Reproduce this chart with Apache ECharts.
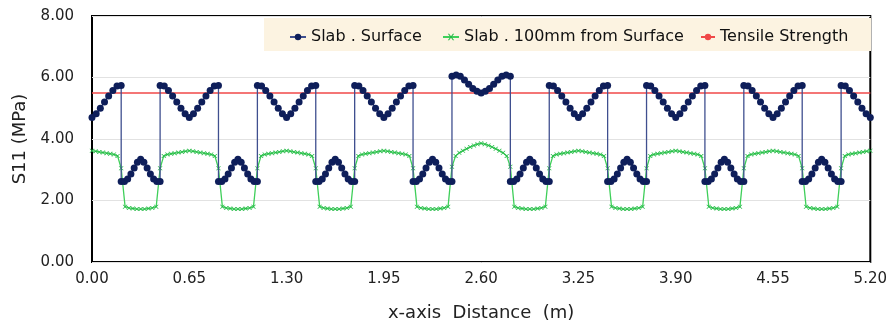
<!DOCTYPE html>
<html>
<head>
<meta charset="utf-8">
<script src="https://cdn.jsdelivr.net/npm/echarts@6/dist/echarts.min.js"></script>
<style>
  html, body { margin: 0; padding: 0; background: #fff; }
  #main { width: 890px; height: 327px; }
</style>
</head>
<body>
<div id="main"></div>
<script>
// centres of the high (slab joint) zones along the x axis, m
var highCenters = [0, 0.65, 1.30, 1.95, 2.60, 3.25, 3.90, 4.55, 5.20];
var halfHigh = 0.195;   // half width of high zone
var lowWidth = 0.26;    // width of low zone between them

// Slab . Surface (MPa)
var surfHigh = [5.74, 5.72, 5.58, 5.40, 5.20, 5.00, 4.82, 4.70, 4.82, 5.00, 5.20, 5.40, 5.58, 5.72, 5.74];
var surfHighMid = [6.04, 6.08, 6.04, 5.92, 5.78, 5.64, 5.55, 5.50, 5.55, 5.64, 5.78, 5.92, 6.04, 6.08, 6.04];
var surfLow = [2.62, 2.62, 2.70, 2.86, 3.06, 3.24, 3.34, 3.24, 3.06, 2.86, 2.70, 2.62, 2.62];

// Slab . 100mm from Surface (MPa)
var greenHigh = [3.05, 3.45, 3.50, 3.52, 3.54, 3.56, 3.58, 3.60, 3.62, 3.60, 3.58, 3.56, 3.54, 3.52, 3.50, 3.45, 3.05];
var greenHighMid = [3.10, 3.45, 3.55, 3.62, 3.68, 3.74, 3.79, 3.83, 3.86, 3.83, 3.79, 3.74, 3.68, 3.62, 3.55, 3.45, 3.10];
var greenLow = [1.80, 1.76, 1.74, 1.72, 1.72, 1.72, 1.74, 1.76, 1.80];

var tensile = 5.5;
var xTicks = ['0.00', '0.65', '1.30', '1.95', '2.60', '3.25', '3.90', '4.55', '5.20'];
var yTicks = ['0.00', '2.00', '4.00', '6.00', '8.00'];

function buildSeries(high, highMid, low, lowInterior) {
    var pts = [];
    highCenters.forEach(function (c) {
        var prof = (c === 2.60) ? highMid : high;
        var n = prof.length - 1;
        prof.forEach(function (v, i) {
            var x = c - halfHigh + i * 2 * halfHigh / n;
            if (x >= -1e-6 && x <= 5.2 + 1e-6) pts.push([+x.toFixed(4), v]);
        });
        if (c < 5.2) {
            var b = c + halfHigh;
            low.forEach(function (v, i) {
                var x = lowInterior
                    ? b + (i + 1) * lowWidth / (low.length + 1)
                    : b + i * lowWidth / (low.length - 1);
                pts.push([+x.toFixed(4), v]);
            });
        }
    });
    return pts;
}

var surfData = buildSeries(surfHigh, surfHighMid, surfLow, false);
var greenData = buildSeries(greenHigh, greenHighMid, greenLow, true);

var font = 'DejaVu Sans';
var crossPath = 'path://M0,0L2,0L5,3L8,0L10,0L6,4L10,8L8,8L5,5L2,8L0,8L4,4Z';
var legendText = { fontFamily: font, fontSize: 16, color: '#111' };

var chart = echarts.init(document.getElementById('main'));
chart.setOption({
    animation: false,
    grid: {
        left: 92, right: 17, top: 16, bottom: 63,
        show: true, borderColor: '#000', borderWidth: 2
    },
    graphic: [{
        type: 'rect',
        shape: { x: 264, y: 18, width: 607, height: 33 },
        style: { fill: '#fcf3e1' },
        z: 1
    }],
    legend: [
        {
            data: ['Slab . Surface'], left: 284, top: 24,
            itemWidth: 16, itemHeight: 8, textStyle: legendText
        },
        {
            data: ['Slab . 100mm from Surface'], left: 437, top: 24,
            itemWidth: 16, itemHeight: 8, textStyle: legendText
        },
        {
            data: ['Tensile Strength'], left: 695, top: 24,
            itemWidth: 14, itemHeight: 8, textStyle: legendText
        }
    ],
    xAxis: {
        type: 'value', min: 0, max: 5.2, interval: 0.65,
        name: 'x-axis  Distance  (m)', nameLocation: 'middle', nameGap: 42,
        nameTextStyle: { fontFamily: font, fontSize: 18, color: '#222' },
        axisLine: { show: false }, axisTick: { show: false },
        splitLine: { show: false },
        axisLabel: {
            margin: 10, fontFamily: font, fontSize: 15, color: '#222',
            formatter: function (v) { return xTicks[Math.round(v / 0.65)]; }
        }
    },
    yAxis: {
        type: 'value', min: 0, max: 8, interval: 2,
        name: 'S11 (MPa)', nameLocation: 'middle', nameGap: 62,
        nameTextStyle: { fontFamily: font, fontSize: 18, color: '#222' },
        axisLine: { show: false }, axisTick: { show: false },
        splitLine: { lineStyle: { color: '#e2e2e2', width: 1 } },
        axisLabel: {
            margin: 18, fontFamily: font, fontSize: 15, color: '#222',
            formatter: function (v) { return yTicks[Math.round(v / 2)]; }
        }
    },
    series: [
        {
            name: 'Tensile Strength', type: 'line', symbol: 'none', z: 2,
            data: [[0, tensile], [5.2, tensile]],
            lineStyle: { color: '#f04848', width: 1.5 },
            itemStyle: { color: '#f04848' }
        },
        {
            name: 'Slab . 100mm from Surface', type: 'line', z: 3,
            data: greenData,
            symbol: crossPath, symbolSize: [5, 4],
            lineStyle: { color: '#3fcf5a', width: 1.3 },
            itemStyle: { color: '#22b944' }
        },
        {
            name: 'Slab . Surface', type: 'line', z: 4,
            data: surfData,
            symbol: 'circle', symbolSize: 7,
            lineStyle: { color: '#3f4f8f', width: 1.3 },
            itemStyle: { color: '#0e1e5a' }
        }
    ]
});
</script>
</body>
</html>
